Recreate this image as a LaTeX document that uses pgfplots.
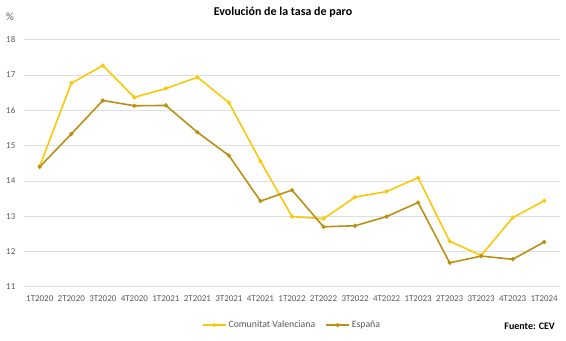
\documentclass[border=0pt]{standalone}
\usepackage{fontspec}
\setmainfont{Carlito}
\usepackage{pgfplots}
\pgfplotsset{compat=1.18}
\definecolor{cvcol}{RGB}{250,200,10}
\definecolor{escol}{RGB}{184,145,20}
\definecolor{tickgray}{RGB}{89,89,89}
\definecolor{gridgray}{RGB}{222,222,222}
\begin{document}
\begin{tikzpicture}
\begin{axis}[
  scale only axis,
  width=536bp, height=247bp,
  xmin=-0.5, xmax=16.5, ymin=11, ymax=18,
  axis line style={draw=none},
  major tick length=0pt,
  ytick={11,12,...,18},
  xtick={0,...,16},
  xticklabels={1T2020,2T2020,3T2020,4T2020,1T2021,2T2021,3T2021,4T2021,1T2022,2T2022,3T2022,4T2022,1T2023,2T2023,3T2023,4T2023,1T2024},
  ymajorgrids,
  grid style={gridgray, line width=0.8bp},
  /pgf/number format/assume math mode=true,
  ticklabel style={font=\fontsize{9}{10}\selectfont, text=tickgray, inner sep=0pt},
  yticklabel style={anchor=east, xshift=-8.5bp},
  xticklabel style={anchor=north, yshift=-8.5bp},
  clip=false,
  legend columns=2,
  legend style={draw=none, at={(0.5,0)}, anchor=center, yshift=-38.3bp,
    font=\fontsize{9.8}{11}\selectfont, text=tickgray,
    /tikz/every even column/.append style={column sep=8bp}},
  legend image code/.code={\draw[mark repeat=2,mark phase=2,#1] plot coordinates {(0bp,0bp) (11.5bp,0bp) (23bp,0bp)};},
]
\addplot[cvcol, line width=1.6bp, mark=*, mark size=1.2bp] coordinates {
(0,14.42) (1,16.77) (2,17.27) (3,16.37) (4,16.62) (5,16.94) (6,16.22) (7,14.56) (8,12.99) (9,12.93) (10,13.54) (11,13.70) (12,14.09) (13,12.29) (14,11.89) (15,12.96) (16,13.44)};
\addlegendentry{Comunitat Valenciana}
\addplot[escol, line width=1.6bp, mark=*, mark size=1.2bp] coordinates {
(0,14.40) (1,15.33) (2,16.28) (3,16.13) (4,16.14) (5,15.38) (6,14.72) (7,13.43) (8,13.74) (9,12.70) (10,12.73) (11,12.99) (12,13.39) (13,11.68) (14,11.87) (15,11.78) (16,12.27)};
\addlegendentry{España}
\node[font=\fontsize{11}{12}\selectfont, text=tickgray, inner sep=0pt] at ([xshift=-14bp,yshift=22.5bp]rel axis cs:0,1) {\%};
\node[font=\bfseries\fontsize{12}{14}\selectfont, inner sep=0pt] at ([xshift=-9bp,yshift=27.8bp]rel axis cs:0.5,1) {Evolución de la tasa de paro};
\node[font=\bfseries\fontsize{10}{12}\selectfont, inner sep=0pt, anchor=east] at ([xshift=-5bp,yshift=-39.5bp]rel axis cs:1,0) {Fuente: CEV};
\end{axis}
\useasboundingbox (-24bp,-53.3bp) rectangle (542bp,286.8bp);
\end{tikzpicture}
\end{document}
